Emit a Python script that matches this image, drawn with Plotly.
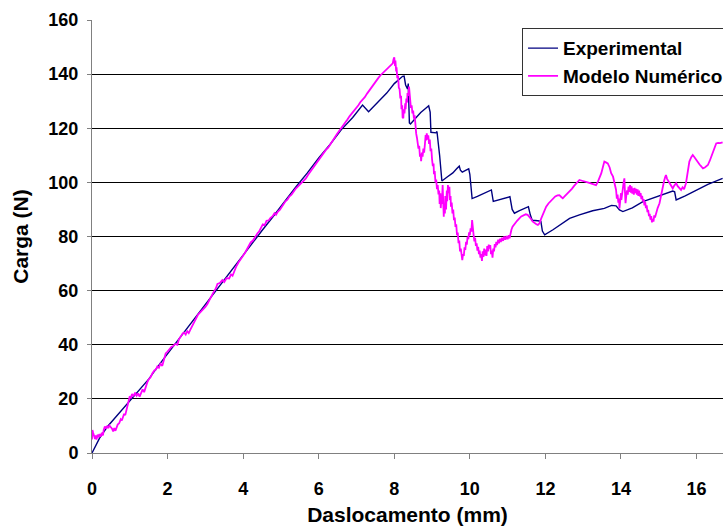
import plotly.graph_objects as go

# Experimental load-displacement curve
exp_x = [0, 0.1, 0.2, 0.4, 0.6, 0.75, 0.9, 1.1, 1.3, 1.5, 1.8, 2.1, 2.4, 2.7, 3.0, 3.3, 3.6,
         3.9, 4.2, 4.5, 4.8, 5.1, 5.4, 5.7, 6.0, 6.3, 6.6, 6.9, 7.1, 7.16, 7.32, 7.5, 7.8, 8.0,
         8.15, 8.22, 8.26, 8.3, 8.35, 8.37, 8.4, 8.43, 8.55, 8.7, 8.85, 8.91, 8.95, 8.97, 9.1,
         9.13, 9.2, 9.26, 9.4, 9.55, 9.65, 9.72, 9.75, 9.8, 9.9, 9.97, 10.0, 10.06, 10.2, 10.35,
         10.5, 10.57, 10.62, 10.7, 10.85, 11.0, 11.06, 11.12, 11.18, 11.3, 11.45, 11.55, 11.6,
         11.65, 11.8, 11.88, 11.92, 11.98, 12.2, 12.4, 12.64, 12.9, 13.25, 13.56, 13.75, 13.87,
         13.96, 14.05, 14.3, 14.58, 14.9, 15.2, 15.37, 15.42, 15.46, 15.7, 15.99, 16.3, 16.69]
exp_y = [0, 3, 5.5, 9.6, 12.8, 15, 17.5, 20.5, 24, 27.3, 33, 38.5, 44, 49.5, 55, 60.5, 66,
         71.5, 77, 82.2, 87.5, 93, 98.4, 103.5, 109, 114, 119.5, 124, 127.5, 128.6, 126.1, 128.6, 133, 136.5,
         138.6, 139.2, 139.3, 136, 134.5, 136.5, 122, 121.6, 123.5, 125.8, 127.6, 128.3, 126, 118.5, 118.3,
         118.8, 110, 100.5, 102, 103.5, 105, 106, 104.5, 103.8, 104.5, 105, 103, 94, 94.8, 95.8,
         96.8, 97.2, 93, 93.3, 94, 94.5, 94.7, 90, 88.6, 89.5, 90.5, 91, 88,
         86, 85.8, 85.6, 82, 80.6, 82.5, 84.5, 86.7, 88, 89.5, 90.4, 91.5, 91.3,
         89.8, 89.2, 90.6, 92.9, 94.5, 96, 96.8, 96.5, 93.5, 95, 97.2, 99.3, 101.5]

# Numerical model: loading branch up to the peak
num_x_rise = [0.00, 0.01, 0.03, 0.05, 0.08, 0.10, 0.12, 0.15, 0.18, 0.20, 0.23, 0.26, 0.29, 0.31, 0.34,
              0.37, 0.40, 0.43, 0.46, 0.50, 0.53, 0.56, 0.59, 0.62, 0.65, 0.68, 0.72, 0.76, 0.79, 0.82,
              0.85, 0.88, 0.91, 0.94, 0.97, 1.00, 1.03, 1.06, 1.10, 1.14, 1.18, 1.22, 1.26, 1.30, 1.34,
              1.38, 1.42, 1.46, 1.50, 1.55, 1.60, 1.65, 1.69, 1.73, 1.77, 1.81, 1.86, 1.90, 1.95, 2.00,
              2.05, 2.10, 2.15, 2.20, 2.26, 2.30, 2.35, 2.40, 2.44, 2.48, 2.52, 2.56, 2.60, 2.65, 2.70,
              2.75, 2.80, 2.85, 2.90, 2.95, 3.00, 3.05, 3.10, 3.15, 3.20, 3.28, 3.32, 3.38, 3.45, 3.50,
              3.56, 3.63, 3.68, 3.72, 3.77, 3.82, 3.88, 3.93, 3.98, 4.05, 4.10, 4.16, 4.20, 4.26, 4.32,
              4.38, 4.42, 4.47, 4.52, 4.57, 4.62, 4.68, 4.72, 4.78, 4.83, 4.87, 4.92, 4.97, 5.02, 5.07,
              5.12, 5.17, 5.22, 5.28, 5.34, 5.40, 5.46, 5.52, 5.58, 5.62, 5.66, 5.72, 5.78, 5.84, 5.88,
              5.93, 5.98, 6.03, 6.08, 6.14, 6.19, 6.25, 6.30, 6.36, 6.42, 6.48, 6.55, 6.63, 6.70, 6.76,
              6.82, 6.88, 6.94, 7.00, 7.05, 7.10, 7.16, 7.22, 7.28, 7.34, 7.40, 7.46, 7.52, 7.58, 7.63,
              7.68, 7.74, 7.80, 7.86, 7.91, 7.96, 7.98]
num_y_rise = [5.0, 8.5, 7.5, 6.0, 5.2, 6.5, 5.0, 6.8, 5.8, 7.0, 6.0, 7.5, 6.5, 8.5, 9.8,
              9.0, 10.0, 9.2, 10.2, 9.5, 9.0, 8.0, 9.2, 8.2, 9.5, 10.5, 11.0, 12.5, 12.0, 13.5,
              14.5, 14.0, 16.0, 18.0, 19.5, 21.0, 20.2, 21.8, 21.0, 22.3, 21.2, 22.0, 20.8, 22.5, 23.5,
              22.5, 24.5, 26.0, 27.2, 28.0, 29.5, 30.5, 30.8, 32.0, 31.5, 33.0, 32.2, 34.5, 36.8, 37.5,
              38.5, 39.2, 39.5, 40.3, 40.0, 42.0, 43.0, 44.2, 44.5, 43.8, 45.0, 44.3, 45.5, 47.0, 48.5,
              50.0, 51.0, 51.8, 52.5, 53.0, 54.0, 55.0, 56.5, 57.5, 59.0, 60.9, 62.5, 62.8, 63.9, 63.2,
              64.6, 64.5, 66.0, 65.5, 67.6, 69.0, 70.5, 71.3, 72.5, 74.0, 75.3, 76.5, 77.8, 78.5, 80.0,
              81.2, 81.8, 83.0, 84.5, 84.2, 85.8, 86.0, 86.8, 87.5, 88.6, 88.0, 89.2, 89.8, 91.0, 91.8,
              93.0, 93.6, 94.7, 95.5, 96.8, 97.8, 98.6, 99.5, 100.3, 100.8, 101.5, 102.8, 104.0, 105.2, 106.0,
              107.0, 108.0, 108.8, 110.0, 111.0, 112.0, 112.8, 114.0, 115.2, 116.5, 117.8, 119.2, 120.6, 122.0, 123.2,
              124.5, 125.5, 126.8, 127.5, 128.5, 129.6, 130.4, 131.5, 132.8, 134.0, 135.2, 136.4, 137.8, 138.6, 139.5,
              140.2, 140.9, 141.8, 142.6, 143.2, 144.0, 145.5]

# Numerical model: softening branch after the peak
num_x_drop = [8.00, 8.02, 8.03, 8.05, 8.06, 8.08, 8.10, 8.12, 8.14, 8.16, 8.18, 8.19, 8.21, 8.22, 8.24,
              8.25, 8.27, 8.29, 8.30, 8.32, 8.34, 8.35, 8.37, 8.39, 8.41, 8.42, 8.44, 8.46, 8.48, 8.50,
              8.52, 8.54, 8.56, 8.58, 8.60, 8.62, 8.64, 8.66, 8.68, 8.70, 8.71, 8.73, 8.75, 8.77, 8.79,
              8.81, 8.83, 8.84, 8.86, 8.88, 8.90, 8.92, 8.94, 8.96, 8.98, 9.00, 9.02, 9.04, 9.05, 9.07,
              9.09, 9.11, 9.13, 9.15, 9.17, 9.19, 9.20, 9.22, 9.23, 9.25, 9.26, 9.28, 9.29, 9.31, 9.32,
              9.34, 9.35, 9.37, 9.39, 9.40, 9.42, 9.44, 9.46, 9.47, 9.49, 9.50, 9.52, 9.54, 9.56, 9.58,
              9.60, 9.62, 9.64, 9.66, 9.68, 9.70, 9.72, 9.74, 9.76, 9.78, 9.80, 9.82, 9.84, 9.86, 9.88,
              9.90, 9.92, 9.94, 9.96, 9.98, 10.00, 10.02, 10.04, 10.06, 10.08, 10.10, 10.12, 10.14, 10.16, 10.18,
              10.20, 10.22, 10.24, 10.26, 10.28, 10.30, 10.32, 10.34, 10.36, 10.38, 10.40, 10.42, 10.44, 10.46, 10.48,
              10.50, 10.52, 10.54, 10.56, 10.58, 10.60, 10.62, 10.64, 10.66, 10.68, 10.70, 10.72, 10.75, 10.77, 10.80,
              10.82, 10.85, 10.88, 10.91, 10.94, 10.97, 11.00, 11.03, 11.05, 11.08, 11.10, 11.13, 11.16, 11.20, 11.25]
num_y_drop = [146.2, 143.0, 145.0, 141.0, 142.5, 138.5, 139.5, 135.0, 134.5, 131.0, 132.0, 127.0, 128.5, 124.0, 123.7,
              127.0, 125.5, 129.2, 127.0, 131.0, 129.5, 133.0, 132.0, 135.4, 130.5, 132.0, 127.5, 128.5, 125.5, 126.5,
              123.5, 124.8, 120.5, 118.0, 116.5, 114.0, 112.5, 113.5, 109.5, 110.5, 107.8, 111.0, 109.5, 112.5, 111.0,
              114.0, 117.5, 115.5, 118.1, 115.8, 117.4, 114.2, 115.8, 111.5, 112.5, 108.5, 106.0, 107.0, 103.0, 104.2,
              100.0, 101.0, 97.5, 99.0, 95.5, 97.0, 92.0, 96.0, 90.5, 94.5, 92.0, 99.0, 91.0, 87.3, 92.0,
              88.5, 95.0, 90.0, 97.0, 93.0, 99.0, 96.0, 98.4, 93.5, 95.0, 91.0, 92.5, 88.5, 90.0, 86.0,
              87.0, 83.5, 84.5, 80.5, 81.5, 77.5, 78.5, 74.5, 75.5, 72.0, 71.3, 73.5, 72.8, 76.0, 75.0,
              78.0, 77.0, 80.0, 79.0, 81.5, 80.5, 83.0, 81.8, 86.1, 82.0, 80.5, 78.2, 79.5, 76.5, 77.5,
              74.8, 76.2, 73.5, 74.8, 72.2, 73.5, 71.0, 74.5, 72.5, 75.5, 73.0, 75.2, 72.8, 76.5, 74.5,
              77.0, 75.5, 76.8, 73.5, 74.8, 72.2, 75.5, 74.5, 77.2, 76.0, 78.0, 76.8, 78.8, 77.5, 79.2,
              78.0, 79.5, 78.4, 80.0, 78.8, 80.2, 79.0, 80.5, 79.3, 81.5, 82.5, 83.6, 84.2, 85.0, 85.8]

# Numerical model: reloading branch to the end of the test
num_x_tail = [11.31, 11.36, 11.42, 11.48, 11.53, 11.58, 11.62, 11.66, 11.71, 11.76, 11.80,
              11.84, 11.89, 11.95, 12.02, 12.08, 12.14, 12.20, 12.26, 12.32, 12.37, 12.42, 12.46, 12.52, 12.58, 12.64,
              12.70, 12.76, 12.82, 12.90, 12.97, 13.03, 13.08, 13.14, 13.20, 13.27, 13.34, 13.39, 13.44, 13.48, 13.52,
              13.56, 13.60, 13.65, 13.70, 13.74, 13.79, 13.83, 13.87, 13.89, 13.91, 13.93, 13.95, 13.96, 13.98, 14.00,
              14.01, 14.03, 14.05, 14.07, 14.09, 14.10, 14.12, 14.14, 14.16, 14.18, 14.20, 14.22, 14.24, 14.26, 14.28,
              14.30, 14.32, 14.34, 14.36, 14.38, 14.40, 14.42, 14.44, 14.46, 14.48, 14.50, 14.52, 14.54, 14.56, 14.58,
              14.60, 14.62, 14.64, 14.66, 14.68, 14.70, 14.72, 14.74, 14.76, 14.78, 14.80, 14.82, 14.84, 14.86, 14.88,
              14.90, 14.93, 14.97, 15.02, 15.06, 15.10, 15.14, 15.17, 15.19, 15.22, 15.25, 15.28, 15.32, 15.37, 15.41,
              15.46, 15.50, 15.55, 15.59, 15.63, 15.67, 15.72, 15.76, 15.81, 15.86, 15.90, 15.94, 15.98, 16.03, 16.08,
              16.13, 16.17, 16.22, 16.26, 16.30, 16.35, 16.39, 16.43, 16.47, 16.52, 16.57, 16.62, 16.69]
num_y_tail = [86.7, 87.4, 87.8, 88.2, 88.0, 87.3, 86.5, 85.6, 84.9, 84.5, 84.3,
              84.8, 86.7, 88.8, 91.0, 92.2, 93.2, 94.1, 94.8, 95.2, 95.3, 94.6, 94.1, 95.0, 95.8, 96.6,
              97.6, 98.7, 99.8, 100.9, 100.6, 100.4, 100.3, 99.9, 99.6, 99.4, 99.0, 100.3, 102.0, 103.4, 105.6,
              107.7, 107.4, 107.0, 105.5, 103.4, 102.1, 99.5, 97.2, 94.0, 95.5, 92.5, 94.0, 90.4, 95.0, 96.0,
              93.5, 97.0, 97.8, 100.0, 101.5, 98.0, 92.3, 95.0, 97.0, 95.5, 98.4, 96.5, 99.0, 96.2, 98.5,
              95.8, 97.8, 95.5, 98.0, 96.0, 97.6, 95.5, 97.4, 95.0, 97.0, 94.8, 96.0, 93.8, 95.0, 93.0,
              93.8, 91.5, 92.8, 90.5, 91.5, 89.0, 89.8, 87.5, 88.4, 86.2, 87.5, 85.2, 86.5, 85.5, 87.8,
              87.0, 88.6, 90.5, 92.3, 95.5, 98.4, 100.5, 102.0, 102.7, 101.3, 100.6, 99.7, 98.6, 97.8, 98.8,
              99.7, 98.6, 97.9, 97.2, 98.2, 97.5, 99.7, 103.5, 107.7, 109.3, 110.1, 109.4, 108.5, 107.7, 106.6,
              105.8, 105.2, 105.5, 105.9, 106.4, 108.0, 109.5, 110.8, 112.5, 114.4, 114.6, 114.5, 114.8]

for xs, ys in [(exp_x, exp_y), (num_x_rise, num_y_rise), (num_x_drop, num_y_drop), (num_x_tail, num_y_tail)]:
    if len(xs) != len(ys):
        raise ValueError(f"length mismatch: {len(xs)} vs {len(ys)}")

num_x = num_x_rise + num_x_drop + num_x_tail
num_y = num_y_rise + num_y_drop + num_y_tail

y_ticks = [0, 20, 40, 60, 80, 100, 120, 140, 160]
x_ticks = [0, 2, 4, 6, 8, 10, 12, 14, 16]

FONT = "Liberation Sans, Arial, sans-serif"

fig = go.Figure()
fig.add_trace(go.Scatter(x=exp_x, y=exp_y, mode="lines", name="Experimental",
                         line=dict(color="#000080", width=1.4)))
fig.add_trace(go.Scatter(x=num_x, y=num_y, mode="lines", name="Modelo Numérico",
                         line=dict(color="#FF00FF", width=1.8)))

fig.update_layout(
    width=723, height=528,
    margin=dict(l=92, r=0, t=20, b=75, autoexpand=False),
    paper_bgcolor="white", plot_bgcolor="white",
    font=dict(family=FONT, color="black"),
    showlegend=True,
    legend=dict(x=0.6815, y=0.981, xanchor="left", yanchor="top",
                bgcolor="white", bordercolor="#333333", borderwidth=1,
                font=dict(family=FONT, size=19, color="black", weight="bold"),
                tracegroupgap=0),
    xaxis=dict(range=[0, 16.7], tickvals=x_ticks, showgrid=False, zeroline=False,
               showline=True, linecolor="#808080", linewidth=1,
               ticks="outside", ticklen=5, tickcolor="#808080", ticklabelstandoff=14,
               tickfont=dict(family=FONT, size=18, color="black", weight="bold"),
               title=dict(text="Daslocamento (mm)", standoff=9,
                          font=dict(family=FONT, size=21, color="black", weight="bold"))),
    yaxis=dict(range=[0, 160], tickvals=y_ticks, showgrid=True, gridcolor="#000000", gridwidth=1,
               zeroline=False, showline=True, linecolor="#808080", linewidth=1,
               ticks="outside", ticklen=4, tickcolor="#808080", ticklabelstandoff=5,
               tickfont=dict(family=FONT, size=18, color="black", weight="bold"),
               title=dict(text="Carga (N)", standoff=14,
                          font=dict(family=FONT, size=21, color="black", weight="bold"))),
)

fig.write_html("out.html")
